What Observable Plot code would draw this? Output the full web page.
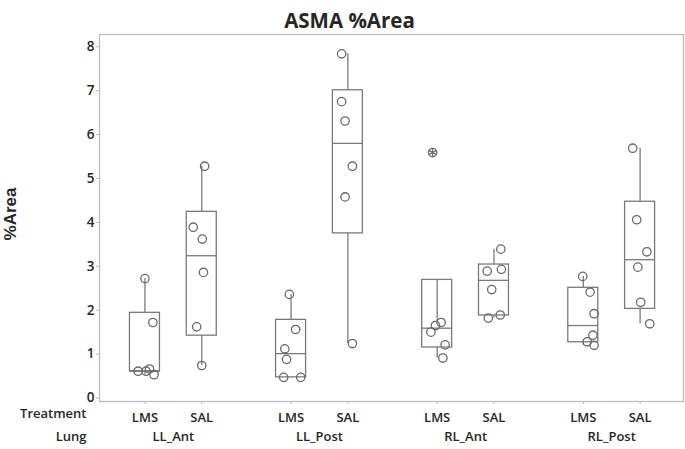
<!DOCTYPE html>
<html><head><meta charset="utf-8">
<script src="https://cdn.jsdelivr.net/npm/d3@7"></script>
<script src="https://cdn.jsdelivr.net/npm/@observablehq/plot@0.6"></script>
<style>body{margin:0;background:#fff} svg{display:block}</style>
</head><body><div id="chart"></div>
<script>
// ---- data ----
const lungs = ["LL_Ant", "LL_Post", "RL_Ant", "RL_Post"];
const treatments = ["LMS", "SAL"];
const yTicks = [0, 1, 2, 3, 4, 5, 6, 7, 8];
// cells in order: LL_Ant LMS, LL_Ant SAL, LL_Post LMS, LL_Post SAL, RL_Ant LMS, RL_Ant SAL, RL_Post LMS, RL_Post SAL
const q1      = [0.61, 1.42, 0.47, 3.75, 1.15, 1.88, 1.27, 2.03];
const median  = [0.61, 3.24, 1.01, 5.80, 1.59, 2.68, 1.65, 3.15];
const q3      = [1.94, 4.24, 1.78, 7.01, 2.69, 3.04, 2.51, 4.47];
const whiskLo = [0.53, 0.74, 0.47, 1.24, 0.91, 1.82, 1.20, 1.69];
const whiskHi = [2.72, 5.28, 2.36, 7.84, 1.72, 3.39, 2.77, 5.69];
const values = [
  [2.72, 1.72, 0.61, 0.61, 0.66, 0.53],
  [5.28, 3.89, 3.62, 2.86, 1.62, 0.74],
  [2.36, 1.56, 1.12, 0.88, 0.47, 0.47],
  [7.84, 6.75, 6.31, 5.28, 4.58, 1.24],
  [5.59, 1.72, 1.65, 1.50, 1.21, 0.91],
  [3.39, 2.93, 2.89, 2.47, 1.89, 1.82],
  [2.77, 2.41, 1.92, 1.43, 1.28, 1.20],
  [5.69, 4.06, 3.33, 2.98, 2.18, 1.69]
];
// horizontal jitter of each point (in category units)
const jitter = [
  [0.00, 0.14, -0.12, 0.02, 0.08, 0.16],
  [0.05, -0.15, 0.01, 0.03, -0.09, 0.00],
  [-0.03, 0.08, -0.11, -0.08, -0.13, 0.17],
  [-0.11, -0.11, -0.05, 0.08, -0.05, 0.08],
  [-0.08, 0.07, -0.03, -0.11, 0.14, 0.10],
  [0.12, 0.13, -0.12, -0.04, 0.11, -0.10],
  [-0.01, 0.12, 0.19, 0.17, 0.07, 0.19],
  [-0.13, -0.06, 0.12, -0.04, 0.01, 0.17]
];
const outlierCell = [4];
const outlierValue = [5.59];

// ---- build tables ----
const GROUP_STEP = 2.572;
const BOX_HALF = 0.264;
const cells = [];
lungs.forEach((l, g) => treatments.forEach((t, k) => cells.push({lung: l, treatment: t, pos: g * GROUP_STEP + k})));
const boxes = cells.map((c, i) => ({...c, q1: q1[i], median: median[i], q3: q3[i], lo: whiskLo[i], hi: whiskHi[i]}));
const points = [];
values.forEach((vs, i) => vs.forEach((v, j) => points.push({x: cells[i].pos + jitter[i][j], y: v})));
const outliers = outlierCell.map((c, i) => ({x: cells[c].pos + jitter[c][values[c].indexOf(outlierValue[i])], y: outlierValue[i]}));
const lungCenters = lungs.map((l, g) => ({lung: l, x: g * GROUP_STEP + 0.5}));

const gray = "#7a7a7a";
const font = "'Open Sans', 'Noto Sans', sans-serif";
const ink = "#262626";

const chart = Plot.plot({
  width: 685,
  height: 449,
  marginLeft: 99,
  marginRight: 2,
  marginTop: 34,
  marginBottom: 48,
  style: {fontFamily: font, background: "#fff", color: ink},
  x: {domain: [-0.80, 9.48], axis: null},
  y: {domain: [-0.08, 8.28], axis: null},
  marks: [
    Plot.frame({stroke: "#bdbdbd", strokeWidth: 1.3}),
    Plot.ruleX(boxes, {x: "pos", y1: "q3", y2: "hi", stroke: gray, strokeWidth: 1.3}),
    Plot.ruleX(boxes, {x: "pos", y1: "q1", y2: "lo", stroke: gray, strokeWidth: 1.3}),
    Plot.rect(boxes, {x1: d => d.pos - BOX_HALF, x2: d => d.pos + BOX_HALF, y1: "q1", y2: "q3", fill: "none", stroke: gray, strokeWidth: 1.3}),
    Plot.ruleY(boxes, {x1: d => d.pos - BOX_HALF, x2: d => d.pos + BOX_HALF, y: "median", stroke: gray, strokeWidth: 1.3}),
    Plot.dot(points, {x: "x", y: "y", r: 4.2, stroke: "#6a6a6a", strokeWidth: 1.3, fill: "none"}),
    Plot.dot(outliers, {x: "x", y: "y", r: 4.2, symbol: "asterisk", stroke: "#6a6a6a", strokeWidth: 1.2}),
    Plot.axisY({ticks: yTicks, tickSize: 3, tickPadding: 2, stroke: "#bdbdbd", fontSize: 13.5, fontWeight: 600, color: ink, label: null}),
    Plot.axisX({ticks: cells.map(c => c.pos), tickSize: 3, tickPadding: 8, tickFormat: v => cells.find(c => Math.abs(c.pos - v) < 1e-6).treatment, stroke: "#bdbdbd", fontSize: 13, fontWeight: 600, color: ink, label: null}),
    Plot.text(lungCenters, {x: "x", text: "lung", frameAnchor: "bottom", dy: 39, fontSize: 13, fontWeight: 600, fill: ink}),
    Plot.text(["Treatment"], {frameAnchor: "bottom-left", dx: -13, dy: 16, textAnchor: "end", fontSize: 13, fontWeight: 600, fill: ink}),
    Plot.text(["Lung"], {frameAnchor: "bottom-left", dx: -13, dy: 39, textAnchor: "end", fontSize: 13, fontWeight: 600, fill: ink}),
    Plot.text(["%Area"], {frameAnchor: "left", textAnchor: "middle", dx: -89, dy: -4, rotate: -90, fontSize: 17, fontWeight: "bold", fontFamily: "'Liberation Sans', Arial, sans-serif", fill: ink}),
    Plot.text(["ASMA %Area"], {frameAnchor: "top", dx: -42, dy: -21, fontSize: 20.5, fontWeight: "bold", fill: ink})
  ]
});
document.getElementById("chart").appendChild(chart);
</script>
</body></html>
